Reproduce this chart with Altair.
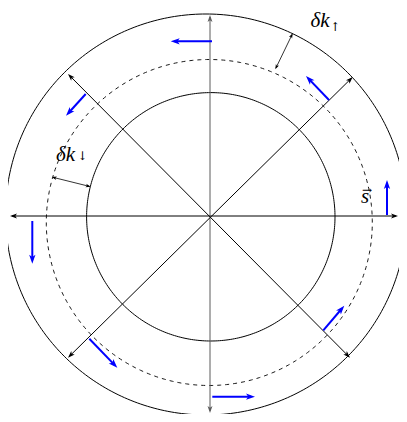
import altair as alt
import pandas as pd
import numpy as np

# ---- geometry (pixel units relative to the centre, y pointing up) ----
circle_name = ["outer", "dashed", "inner"]
circle_cx = [-4.0, -0.7, 0.8]
circle_cy = [1.5, -6.5, -0.8]
circle_r = [200.5, 163.0, 124.2]
circle_dash = [0, 1, 0]

# axes: double headed lines through the centre
axis_x1 = [-200.0, 0.0, -142.0, 142.7]
axis_y1 = [0.0, 201.0, 142.0, 139.0]
axis_x2 = [188.0, 0.0, 140.0, -142.0]
axis_y2 = [0.0, -197.0, -141.7, -141.7]
axis_col = ["#000000", "#5a5a5a", "#000000", "#000000"]

# blue spin arrows (tail -> tip)
spin_x1 = [2.0, -124.3, 119.0, 177.0, -177.7, -120.7, 2.3, 113.3]
spin_y1 = [174.7, 122.0, 116.0, 1.0, -5.0, -122.7, -180.7, -114.3]
spin_x2 = [-39.3, -144.0, 96.0, 177.0, -177.7, -92.7, 45.0, 134.3]
spin_y2 = [174.7, 100.3, 140.0, 36.0, -47.7, -151.7, -180.7, -89.7]

# small double arrows marking delta k
dk_x1 = [82.7, -158.3]
dk_y1 = [182.7, 39.0]
dk_x2 = [65.3, -119.3]
dk_y2 = [146.7, 29.3]

# labels (baseline positions)
lab_text = ["δk", "δk", "s"]
lab_x = [110.0, -144.5, 155.0]
lab_y = [189.0, 55.3, 13.0]
sub_text = ["↑", "↓", "→"]
sub_x = [125.0, -127.7, 157.0]
sub_y = [189.5, 60.0, 26.0]

# ---- build tables ----
t = np.linspace(0, 2 * np.pi, 361)
rows = []
for n, cx, cy, r, d in zip(circle_name, circle_cx, circle_cy, circle_r, circle_dash):
    for i, a in enumerate(t):
        rows.append({"name": n, "i": i, "x": cx + r * np.cos(a), "y": cy + r * np.sin(a), "dash": d})
circ = pd.DataFrame(rows)

segs = []
heads = []


def add(x1, y1, x2, y2, col, w, size, both, shorten):
    dx, dy = x2 - x1, y2 - y1
    L = np.hypot(dx, dy)
    ux, uy = dx / L, dy / L
    sx1, sy1 = x1, y1
    if both:
        sx1, sy1 = x1 + ux * shorten, y1 + uy * shorten
        heads.append({"x": x1, "y": y1, "ang": (-np.degrees(np.arctan2(-dy, -dx))) % 360, "col": col, "size": size})
    sx2, sy2 = x2 - ux * shorten, y2 - uy * shorten
    heads.append({"x": x2, "y": y2, "ang": (-np.degrees(np.arctan2(dy, dx))) % 360, "col": col, "size": size})
    segs.append({"x1": sx1, "y1": sy1, "x2": sx2, "y2": sy2, "col": col, "w": w})


for a, b, c, d, col in zip(axis_x1, axis_y1, axis_x2, axis_y2, axis_col):
    add(a, b, c, d, col, 1.0, 49, True, 2.0)
for a, b, c, d in zip(spin_x1, spin_y1, spin_x2, spin_y2):
    add(a, b, c, d, "#0000ff", 2.0, 81, False, 4.0)
for a, b, c, d in zip(dk_x1, dk_y1, dk_x2, dk_y2):
    add(a, b, c, d, "#000000", 0.8, 25, True, 1.5)

segs = pd.DataFrame(segs)
heads = pd.DataFrame(heads)
labs = pd.DataFrame({"t": lab_text, "x": lab_x, "y": lab_y})
subs = pd.DataFrame({"t": sub_text, "x": sub_x, "y": sub_y})

W, H = 391, 406
xs = alt.Scale(domain=[-202, -202 + W], nice=False, zero=False)
ys = alt.Scale(domain=[208 - H, 208], nice=False, zero=False)
X = lambda f: alt.X(f, scale=xs, axis=None)
Y = lambda f: alt.Y(f, scale=ys, axis=None)

solid = alt.Chart(circ[circ.dash == 0]).mark_line(color="black", strokeWidth=1).encode(
    x=X("x:Q"), y=Y("y:Q"), detail="name:N", order="i:Q")
dashed = alt.Chart(circ[circ.dash == 1]).mark_line(color="black", strokeWidth=0.9, strokeDash=[4, 4]).encode(
    x=X("x:Q"), y=Y("y:Q"), detail="name:N", order="i:Q")

lines = alt.Chart(segs).mark_rule(strokeCap="butt").encode(
    x=X("x1:Q"), y=Y("y1:Q"), x2="x2:Q", y2="y2:Q",
    color=alt.Color("col:N", scale=None),
    strokeWidth=alt.StrokeWidth("w:Q", scale=None))

arrow_path = "M0,0 L-2,-0.7 L-1.5,0 L-2,0.7 Z"
tips = alt.Chart(heads).mark_point(shape=arrow_path, filled=True, opacity=1, strokeWidth=0).encode(
    x=X("x:Q"), y=Y("y:Q"),
    angle=alt.Angle("ang:Q", scale=None),
    color=alt.Color("col:N", scale=None),
    size=alt.Size("size:Q", scale=None))

main_txt = alt.Chart(labs).mark_text(font="Liberation Serif", fontStyle="italic", fontSize=21,
                                     color="black", align="center", baseline="alphabetic").encode(
    x=X("x:Q"), y=Y("y:Q"), text="t:N")
sub_txt = alt.Chart(subs).mark_text(font="DejaVu Serif", fontSize=12, color="black",
                                    align="center", baseline="middle").encode(
    x=X("x:Q"), y=Y("y:Q"), text="t:N")

chart = alt.layer(solid, dashed, lines, tips, main_txt, sub_txt).properties(
    width=W, height=H, padding=0, background="white",
    autosize=alt.AutoSizeParams(type="none")
).configure_view(stroke=None)

chart.save("out.html", embed_options={"renderer": "svg", "actions": False})
